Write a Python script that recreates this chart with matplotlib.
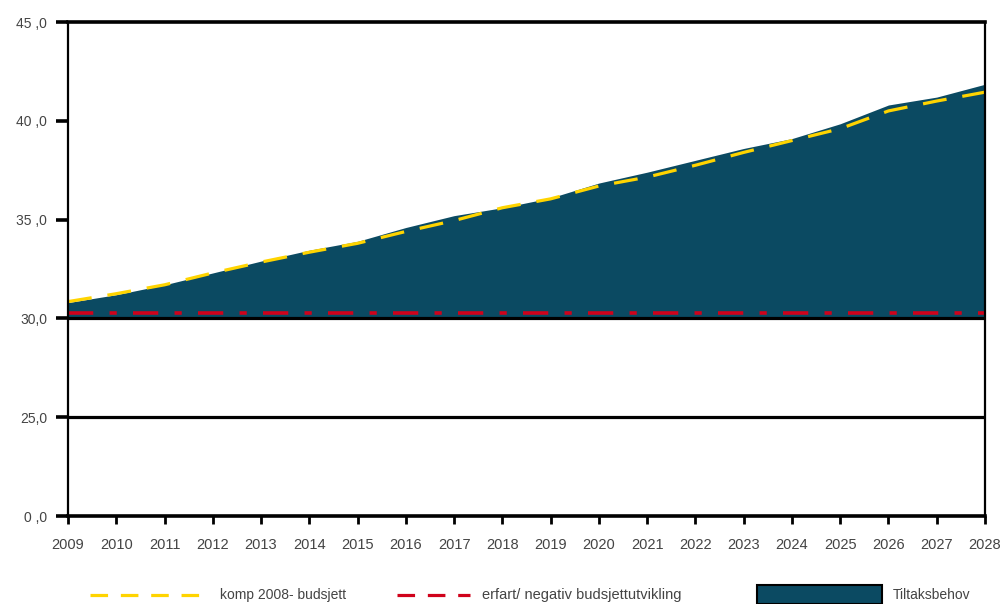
import matplotlib
matplotlib.use("Agg")
import matplotlib.pyplot as plt
from matplotlib.lines import Line2D
from matplotlib.patches import Rectangle

# data
years = list(range(2009, 2029))
tiltaksbehov = [30.8, 31.2, 31.7, 32.3, 32.9, 33.45, 33.9, 34.6, 35.2, 35.6,
                36.1, 36.85, 37.4, 38.0, 38.6, 39.1, 39.85, 40.8, 41.2, 41.85]
komp_2008 = [30.85, 31.25, 31.7, 32.3, 32.85, 33.35, 33.8, 34.4, 34.95, 35.6,
             36.05, 36.7, 37.15, 37.75, 38.4, 39.0, 39.6, 40.5, 41.0, 41.45]
erfart = [30.28] * len(years)
base = 30.0

ytick_vals = [20, 25, 30, 35, 40, 45]
ytick_labels = ["0 ,0", "25,0", "30,0", "35 ,0", "40 ,0", "45 ,0"]

fill_col = "#0b4a62"
yellow = "#ffd400"
red = "#d0021b"
txt_col = "#444444"

plt.rcParams['font.family'] = ['Liberation Sans', 'DejaVu Sans']

fig = plt.figure(figsize=(10.03, 6.04), dpi=100)
ax = fig.add_axes([68 / 1003, 1 - 516 / 604, (985 - 68) / 1003, (516 - 22) / 604])

ax.fill_between(years, base, tiltaksbehov, color=fill_col, lw=0, zorder=1)
ax.plot(years, komp_2008, color=yellow, lw=2.3, dashes=(7.5, 5), zorder=3)
ax.plot(years, erfart, color=red, lw=2.6, dashes=(7, 4.5, 2, 4.5), zorder=3)

# horizontal grid lines at 30 and 25
for v in [30, 25]:
    ax.axhline(v, color="black", lw=2.3, zorder=4)

ax.set_xlim(2009, 2028)
ax.set_ylim(20, 45)
ax.set_xticks(years)
ax.set_xticklabels([str(y) for y in years])
ax.set_yticks(ytick_vals)
ax.set_yticklabels(ytick_labels)

for side in ["top", "bottom"]:
    ax.spines[side].set_linewidth(2.6)
for side in ["left", "right"]:
    ax.spines[side].set_linewidth(1.6)
for s in ax.spines.values():
    s.set_zorder(5)

ax.tick_params(axis="x", direction="out", length=6, width=2, pad=10,
               labelsize=10.5, labelcolor=txt_col)
ax.tick_params(axis="y", direction="out", length=9, width=2.6, pad=6,
               labelsize=10, labelcolor=txt_col)

# legend drawn under the axes
ly = 1 - 595 / 604
fig.add_artist(Line2D([90 / 1003, 205 / 1003], [ly] * 2, color=yellow,
                      lw=2.3, dashes=(5.5, 4)))
fig.text(220 / 1003, ly, "komp 2008- budsjett", fontsize=10,
         color=txt_col, va="center")
fig.add_artist(Line2D([397 / 1003, 470 / 1003], [ly] * 2, color=red,
                      lw=2.3, dashes=(5.5, 4)))
fig.text(482 / 1003, ly, "erfart/ negativ budsjettutvikling", fontsize=10.5,
         color=txt_col, va="center")
fig.add_artist(Rectangle((757 / 1003, 0), 125 / 1003, 19 / 604, facecolor=fill_col,
                         edgecolor="black", lw=1.5, transform=fig.transFigure))
fig.text(893 / 1003, ly, "Tiltaksbehov", fontsize=10,
         color=txt_col, va="center")

fig.savefig("out.png", dpi=100)
